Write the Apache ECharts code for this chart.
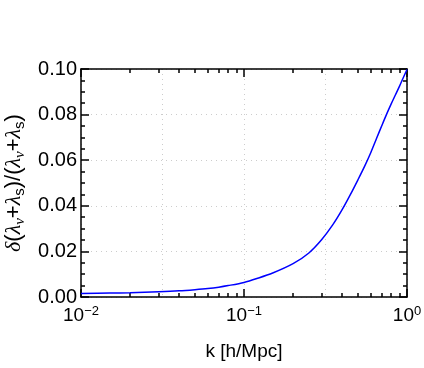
<!DOCTYPE html>
<html>
<head>
<meta charset="utf-8">
<style>
  html, body { margin: 0; padding: 0; background: #fff; }
  #main { width: 424px; height: 368px; }
</style>
<script src="https://cdn.jsdelivr.net/npm/echarts@6/dist/echarts.min.js"></script>
</head>
<body>
<div id="main"></div>
<script>
// k [h/Mpc] sampled along the curve
var kValues = [0.01, 0.015, 0.02, 0.03, 0.04, 0.05, 0.06, 0.07, 0.08, 0.1, 0.12, 0.15, 0.2, 0.25,
               0.3, 0.35, 0.4, 0.45, 0.5, 0.55, 0.6, 0.65, 0.7, 0.75, 0.8, 0.85, 0.9, 0.95, 1.0];
// relative change of lambda_nu + lambda_s
var ratioValues = [0.0015, 0.0017, 0.0019, 0.0023, 0.0027, 0.0032, 0.0037, 0.0043, 0.0050, 0.0064, 0.0081, 0.0105, 0.0146, 0.0193,
                   0.0252, 0.0316, 0.0383, 0.0450, 0.0514, 0.0574, 0.0634, 0.0695, 0.0751, 0.0802, 0.0847, 0.0887, 0.0925, 0.0963, 0.0998];

// ticks (x in k units)
var xMajorTicks = [0.01, 0.1, 1];
var xMinorTicks = [0.02, 0.03, 0.04, 0.05, 0.06, 0.07, 0.08, 0.09,
                   0.2, 0.3, 0.4, 0.5, 0.6, 0.7, 0.8, 0.9];

var seriesData = [];
for (var i = 0; i < kValues.length; i++) {
  seriesData.push([kValues[i], ratioValues[i]]);
}
function lg(arr) { return arr.map(function (v) { return Math.log10(v); }); }

var FONT = 'Liberation Sans';
var BLACK = '#000';
var gridLineStyle = { color: '#cccccc', type: [1, 4], width: 1 };

var myChart = echarts.init(document.getElementById('main'));

var option = {
  animation: false,
  backgroundColor: '#fff',
  grid: { left: 81, right: 17, top: 69, bottom: 71, containLabel: false, outerBoundsMode: 'none' },
  xAxis: [
    // 0: the real log axis, bottom, labels + major ticks
    {
      type: 'log', logBase: 10, min: 0.01, max: 1, position: 'bottom',
      axisLine: { onZero: false, lineStyle: { color: BLACK, width: 1.5 } },
      axisTick: { inside: true, length: 8, lineStyle: { color: BLACK, width: 1.5 } },
      axisLabel: {
        margin: 8,
        formatter: function (v) {
          var e = Math.round(Math.log10(v));
          return '{b|10}{s|' + (e < 0 ? '\u2212' + (-e) : e) + '}';
        },
        rich: {
          b: { fontFamily: FONT, fontSize: 19, color: BLACK, lineHeight: 22 },
          s: { fontFamily: FONT, fontSize: 13, color: BLACK, lineHeight: 15, verticalAlign: 'top' }
        }
      },
      splitLine: { show: false },
      name: 'k [h/Mpc]', nameLocation: 'middle', nameGap: 45,
      nameTextStyle: { fontFamily: FONT, fontSize: 19, color: BLACK }
    },
    // 1: bottom minor ticks
    {
      type: 'value', min: -2, max: 0, position: 'bottom',
      axisLine: { show: false, onZero: false },
      axisTick: { inside: true, length: 4, customValues: lg(xMinorTicks), lineStyle: { color: BLACK, width: 1.5 } },
      axisLabel: { show: false }, splitLine: { show: false }
    },
    // 2: top frame + major ticks
    {
      type: 'value', min: -2, max: 0, position: 'top',
      axisLine: { onZero: false, lineStyle: { color: BLACK, width: 1.5 } },
      axisTick: { inside: true, length: 8, customValues: lg(xMajorTicks), lineStyle: { color: BLACK, width: 1.5 } },
      axisLabel: { show: false }, splitLine: { show: false }
    },
    // 3: top minor ticks
    {
      type: 'value', min: -2, max: 0, position: 'top',
      axisLine: { show: false, onZero: false },
      axisTick: { inside: true, length: 4, customValues: lg(xMinorTicks), lineStyle: { color: BLACK, width: 1.5 } },
      axisLabel: { show: false }, splitLine: { show: false }
    },
    // 4: dotted grid at half decades
    {
      type: 'value', min: -2, max: 0, interval: 0.5, position: 'top',
      axisLine: { show: false, onZero: false },
      axisTick: { show: false }, axisLabel: { show: false },
      splitLine: { show: true, lineStyle: gridLineStyle }
    }
  ],
  yAxis: [
    {
      type: 'value', min: 0, max: 0.1, interval: 0.02, position: 'left',
      axisLine: { show: true, onZero: false, lineStyle: { color: BLACK, width: 1.5 } },
      axisTick: { show: true, inside: true, length: 8, lineStyle: { color: BLACK, width: 1.5 } },
      minorTick: { show: true, splitNumber: 4, length: 4, lineStyle: { color: BLACK, width: 1.5 } },
      axisLabel: {
        margin: 4, fontFamily: FONT, fontSize: 20, color: BLACK,
        formatter: function (v) { return v.toFixed(2); }
      },
      splitLine: { show: true, lineStyle: gridLineStyle },
      name: '{g|\u03b4}{n|(}{g|\u03bb}{gs|\u03bd}{n|+}{g|\u03bb}{s|s}{n|)/(}{g|\u03bb}{gs|\u03bd}{n|+}{g|\u03bb}{s|s}{n|)}',
      nameLocation: 'middle', nameRotate: 90, nameGap: 34,
      nameTextStyle: {
        align: 'center',
        rich: {
          n: { fontFamily: FONT, fontSize: 22, color: BLACK, lineHeight: 26 },
          g: { fontFamily: 'Liberation Serif', fontStyle: 'italic', fontSize: 22, color: BLACK, lineHeight: 26 },
          s: { fontFamily: FONT, fontSize: 15, color: BLACK, lineHeight: 17, verticalAlign: 'bottom' },
          gs: { fontFamily: 'Liberation Serif', fontStyle: 'italic', fontSize: 15, color: BLACK, lineHeight: 17, verticalAlign: 'bottom' }
        }
      }
    },
    {
      type: 'value', min: 0, max: 0.1, interval: 0.02, position: 'right',
      axisLine: { show: true, onZero: false, lineStyle: { color: BLACK, width: 1.5 } },
      axisTick: { show: true, inside: true, length: 8, lineStyle: { color: BLACK, width: 1.5 } },
      minorTick: { show: true, splitNumber: 4, length: 4, lineStyle: { color: BLACK, width: 1.5 } },
      axisLabel: { show: false },
      splitLine: { show: false }
    }
  ],
  series: [
    {
      name: 'ratio',
      type: 'line',
      xAxisIndex: 0,
      yAxisIndex: 0,
      smooth: 0.3,
      showSymbol: false,
      lineStyle: { color: '#0000ff', width: 1.5 },
      data: seriesData
    }
  ]
};

myChart.setOption(option);
</script>
</body>
</html>
